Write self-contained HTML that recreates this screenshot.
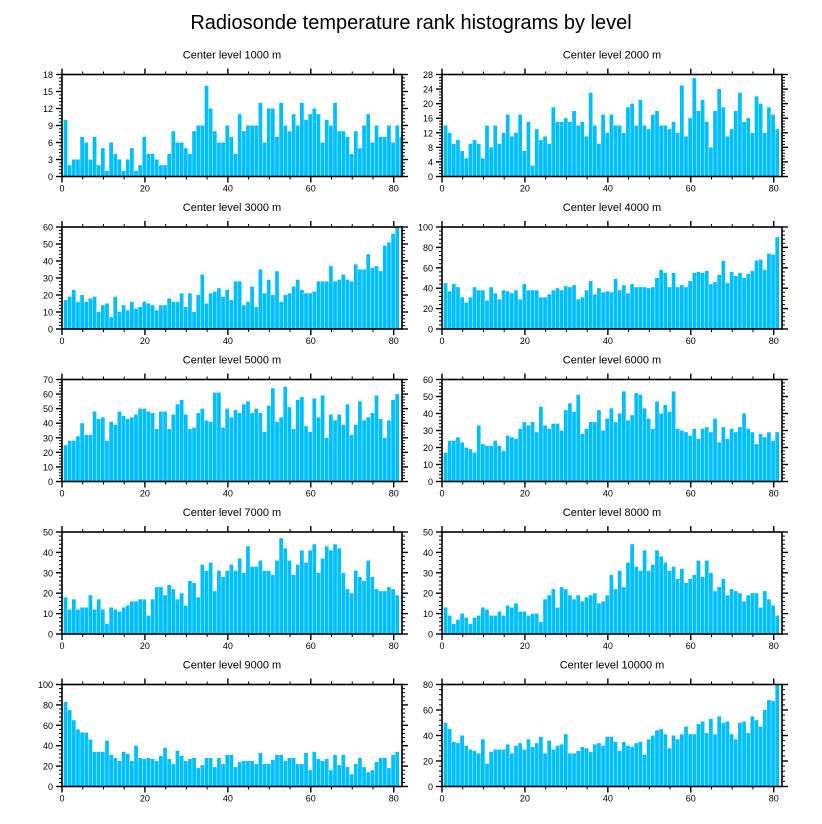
<!DOCTYPE html>
<html><head><meta charset="utf-8"><style>
html,body{margin:0;padding:0;background:#fff;}
svg{display:block;font-family:"Liberation Sans",Arial,sans-serif;}
</style></head><body>
<svg id="chart" width="822" height="824" viewBox="0 0 822 824">
<text x="411" y="29" text-anchor="middle" font-size="20">Radiosonde temperature rank histograms by level</text>
</svg>
<script>
const levels = [1000,2000,3000,4000,5000,6000,7000,8000,9000,10000];
const yMaxes = [18,28,60,100,70,60,50,50,100,80];
const ySteps = [3,4,10,20,10,10,10,10,20,20];
const xTicks = [0,20,40,60,80];
const c1000 = [10,2,3,3,7,6,3,7,2,5,1,6,4,3,1,3,5,1,2,7,4,4,3,2,2,4,8,6,6,5,4,8,9,9,16,12,8,6,6,9,7,4,11,8,9,9,9,13,6,12,12,7,13,9,8,11,9,13,10,11,12,11,6,10,9,13,8,8,7,4,8,5,9,11,6,9,7,7,9,6,9,7];
const c2000 = [14,12,9,10,7,5,9,10,9,5,14,8,14,9,12,17,11,12,17,7,15,3,13,10,11,9,19,15,15,16,15,18,14,15,11,23,14,9,17,12,17,14,14,12,19,20,14,21,14,13,17,18,14,14,13,15,12,25,11,16,27,18,21,15,8,18,24,19,11,13,18,23,15,16,12,22,20,12,19,17,13];
const c3000 = [17,19,23,16,20,16,18,19,10,14,15,7,19,10,14,11,16,12,13,16,15,14,11,14,14,18,16,16,21,13,21,10,20,32,15,21,22,24,19,23,17,28,28,14,16,25,13,35,21,29,20,34,16,20,21,25,29,23,21,21,22,28,28,28,37,28,29,32,29,28,38,35,35,44,36,37,34,49,51,56,60];
const c4000 = [45,37,44,41,31,26,31,41,38,38,28,41,35,29,38,37,35,38,29,44,38,38,38,31,31,34,38,40,38,42,41,43,29,31,38,47,34,40,36,37,36,49,38,43,35,44,41,41,41,40,41,50,58,55,41,55,41,43,41,47,55,56,55,57,44,46,53,67,45,56,52,55,50,54,57,67,68,58,74,73,90];
const c5000 = [25,28,28,31,40,32,32,48,43,44,28,41,39,48,45,43,44,46,50,50,48,47,36,48,48,36,46,53,56,46,36,37,47,50,42,41,61,61,37,50,44,49,47,53,55,47,50,47,34,52,64,41,44,65,51,36,56,58,38,34,57,44,59,30,46,42,46,39,53,32,39,55,42,44,47,59,43,30,42,56,60];
const c6000 = [17,24,24,26,23,20,19,17,33,22,21,21,24,21,18,27,26,25,31,35,33,35,29,44,33,31,34,34,30,42,46,41,51,28,31,35,35,42,30,37,43,35,40,53,36,39,52,51,43,37,31,47,40,45,41,53,31,30,29,27,31,25,31,32,29,37,23,32,25,31,29,32,40,31,29,22,28,26,29,24,29];
const c7000 = [18,12,17,12,13,13,19,12,17,12,5,13,12,11,13,14,16,16,17,17,9,17,23,23,19,24,22,17,20,14,26,25,18,34,31,35,21,31,28,31,34,31,37,30,43,33,33,36,31,31,29,36,47,42,36,29,34,41,35,41,44,30,37,43,41,44,42,30,22,20,31,28,26,36,28,22,21,21,23,22,19];
const c8000 = [13,9,5,7,10,8,5,8,9,13,12,9,9,11,9,14,13,15,11,11,9,10,10,6,17,19,22,13,23,22,19,17,19,16,18,19,20,15,16,19,29,22,31,23,35,44,33,31,41,31,34,41,38,35,31,33,27,32,25,27,29,36,28,36,30,21,23,27,19,22,21,20,16,19,20,20,13,21,17,14,9];
const c9000 = [83,75,65,56,53,53,46,34,34,34,45,31,28,25,34,32,25,40,28,27,28,27,25,30,38,27,22,35,30,25,27,28,18,21,28,28,19,28,22,31,31,19,24,25,25,25,22,33,22,22,26,31,31,25,28,28,22,22,33,16,34,27,25,27,16,31,21,31,19,12,22,28,19,14,16,24,28,28,18,31,34];
const c10000 = [50,45,35,34,40,32,29,28,26,37,18,27,29,29,29,33,26,32,34,29,37,31,34,39,26,36,29,32,33,41,26,26,28,31,30,27,33,34,32,39,39,35,28,35,32,31,34,35,25,37,40,44,45,41,30,40,37,41,47,41,41,49,51,42,53,41,55,50,51,41,37,50,51,42,55,52,47,60,68,67,80];
const allCounts = [c1000,c2000,c3000,c4000,c5000,c6000,c7000,c8000,c9000,c10000];

const svg = document.getElementById('chart');
const NS = 'http://www.w3.org/2000/svg';
const XMAX = 82;
const PW = 340, PH = 102;
function mk(tag, attrs, parent) {
  const e = document.createElementNS(NS, tag);
  for (const k in attrs) e.setAttribute(k, attrs[k]);
  parent.appendChild(e);
  return e;
}
levels.forEach((lvl, p) => {
  const col = p % 2, row = Math.floor(p / 2);
  const left = col === 0 ? 62 : 442;
  const top = 74.5 + row * 152.5;
  const bottom = top + PH;
  const xs = v => left + v / XMAX * PW;
  const ys = v => bottom - v / yMaxes[p] * PH;
  const g = mk('g', {}, svg);
  
  
  const st = mk('text', {x: left + PW / 2, y: top - 16, 'text-anchor': 'middle', 'font-size': 11}, g);
  st.textContent = 'Center level ' + lvl + ' m';
  
  
  allCounts[p].forEach((v, i) => {
    const r = mk('rect', {x: xs(i + 0.4), y: ys(v), width: xs(0.9) - xs(0), height: bottom - ys(v), fill: '#00bfff'}, g);
    
    
  });
  const fr = mk('rect', {x: left, y: top, width: PW, height: PH, fill: 'none', stroke: '#000', 'stroke-width': 1.6}, g);
  
  
  // x ticks
  for (let t = 0; t <= 80; t += 5) {
    const major = t % 20 === 0;
    const L = major ? 6 : 3;
    mk('line', {x1: xs(t), x2: xs(t), y1: bottom, y2: bottom + L, stroke: '#000', 'stroke-width': major ? 1.4 : 1}, g);
    mk('line', {x1: xs(t), x2: xs(t), y1: top, y2: top - L, stroke: '#000', 'stroke-width': major ? 1.4 : 1}, g);
  }
  xTicks.forEach(t => {
    const tx = mk('text', {x: xs(t), y: bottom + 15, 'text-anchor': 'middle', 'font-size': 9}, g);
    tx.textContent = t;
    
    
  });
  // y ticks
  const step = ySteps[p], minor = step / 5;
  for (let k = 0; k <= Math.round(yMaxes[p] / minor); k++) {
    const v = k * minor;
    const major = k % 5 === 0;
    const L = major ? 6 : 3;
    mk('line', {x1: left, x2: left - L, y1: ys(v), y2: ys(v), stroke: '#000', 'stroke-width': major ? 1.4 : 1}, g);
    mk('line', {x1: left + PW, x2: left + PW + L, y1: ys(v), y2: ys(v), stroke: '#000', 'stroke-width': major ? 1.4 : 1}, g);
  }
  for (let v = 0; v <= yMaxes[p]; v += step) {
    const ty = mk('text', {x: left - 9, y: ys(v) + 3.5, 'text-anchor': 'end', 'font-size': 9}, g);
    ty.textContent = v;
    
    
  }
});
</script>
</body></html>
